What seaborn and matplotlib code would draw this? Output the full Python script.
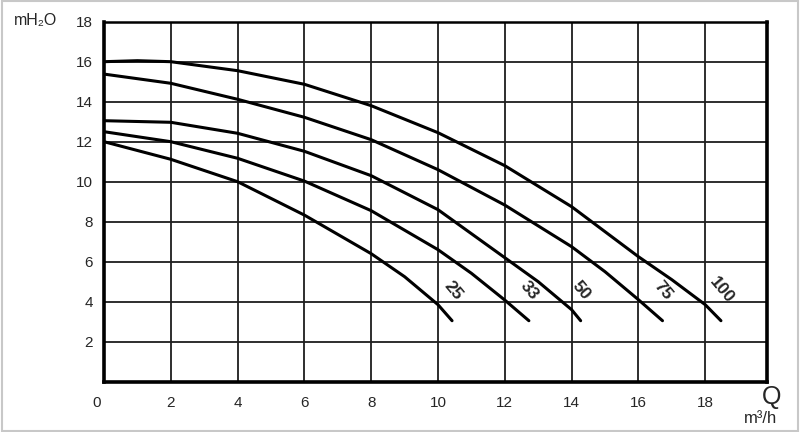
import numpy as np
import pandas as pd
import matplotlib
matplotlib.use("Agg")
import matplotlib.pyplot as plt
import matplotlib.transforms as mtransforms
from matplotlib.patches import Rectangle
import seaborn as sns

# =====================================
# DATA
# =====================================

curve_names = ["25", "33", "50", "75", "100"]

q_25 = [0, 2, 4, 6, 8, 9, 10, 10.42]
h_25 = [12.0, 11.12, 10.0, 8.33, 6.4, 5.25, 3.85, 3.05]

q_33 = [0, 2, 4, 6, 8, 10, 11, 12, 12.72]
h_33 = [12.5, 12.0, 11.17, 10.03, 8.55, 6.6, 5.42, 4.08, 3.05]

q_50 = [0, 2, 4, 6, 8, 10, 12, 13, 14, 14.27]
h_50 = [13.05, 12.97, 12.42, 11.52, 10.3, 8.6, 6.2, 5.0, 3.6, 3.05]

q_75 = [0, 2, 4, 6, 8, 10, 12, 14, 15, 16, 16.72]
h_75 = [15.38, 14.92, 14.12, 13.22, 12.1, 10.6, 8.83, 6.75, 5.5, 4.1, 3.05]

q_100 = [0, 1, 2, 4, 6, 8, 10, 12, 14, 16, 17, 18, 18.47]
h_100 = [16.0, 16.05, 16.0, 15.55, 14.87, 13.8, 12.45, 10.8, 8.75, 6.25, 5.1, 3.85, 3.05]

x_ticks = [0, 2, 4, 6, 8, 10, 12, 14, 16, 18]
y_ticks = [2, 4, 6, 8, 10, 12, 14, 16, 18]

# =====================================
# BUILD TABLE
# =====================================

frames = []
for name, q, h in zip(curve_names,
                      [q_25, q_33, q_50, q_75, q_100],
                      [h_25, h_33, h_50, h_75, h_100]):
    frames.append(pd.DataFrame({"Q": q, "H": h, "curve": name}))
df = pd.concat(frames, ignore_index=True)

# =====================================
# PLOT
# =====================================

sns.set_style("white")
plt.rcParams["font.family"] = ["Liberation Sans", "DejaVu Sans"]

fig = plt.figure(figsize=(8, 4.32), dpi=100)
ax = fig.add_axes([0.13, 0.1164, 0.8288, 0.8334])

sns.lineplot(
    data=df, x="Q", y="H", hue="curve",
    palette=["black"] * len(curve_names),
    units="curve", estimator=None, sort=False,
    linewidth=2.2, legend=False, ax=ax
)

ax.set_xlim(0, 19.85)
ax.set_ylim(0, 18)
ax.set_xticks(x_ticks)
ax.set_yticks(y_ticks)
ax.set_xlabel("")
ax.set_ylabel("")
ax.grid(True, color="#1e1e1e", linewidth=1.3)
ax.set_axisbelow(True)
ax.tick_params(axis="both", direction="out", length=4, width=1.3,
               color="#1e1e1e", labelsize=11, pad=4)
ax.tick_params(axis="x", pad=6)

# the "0" label sits a little left of the axis corner
shift = mtransforms.ScaledTranslation(-7 / 100, 0, fig.dpi_scale_trans)
first = ax.get_xticklabels()[0]
first.set_transform(first.get_transform() + shift)

for side in ["left", "bottom", "right"]:
    ax.spines[side].set_linewidth(2.6)
    ax.spines[side].set_color("black")
ax.spines["top"].set_linewidth(1.8)
ax.spines["top"].set_color("black")

# curve labels near the end of each curve
for name, sub in df.groupby("curve", sort=False):
    end_q = sub["Q"].iloc[-1]
    end_h = sub["H"].iloc[-1]
    ax.text(end_q + 0.02, end_h + 1.5, name, rotation=-50,
            ha="center", va="center", fontsize=12.5, fontweight="bold")

# axis titles
fig.text(0.045, 0.953, "mH₂O", ha="center", va="center", fontsize=11.5)
fig.text(0.964, 0.081, "Q", ha="center", va="center", fontsize=18)
fig.text(0.951, 0.032, "m³/h", ha="center", va="center", fontsize=12)

# light frame around the picture
fig.add_artist(Rectangle((0.003, 0.002), 0.994, 0.995,
                         transform=fig.transFigure, fill=False,
                         edgecolor="#c8c8c8", linewidth=1.5))

fig.savefig("out.png", dpi=100)
